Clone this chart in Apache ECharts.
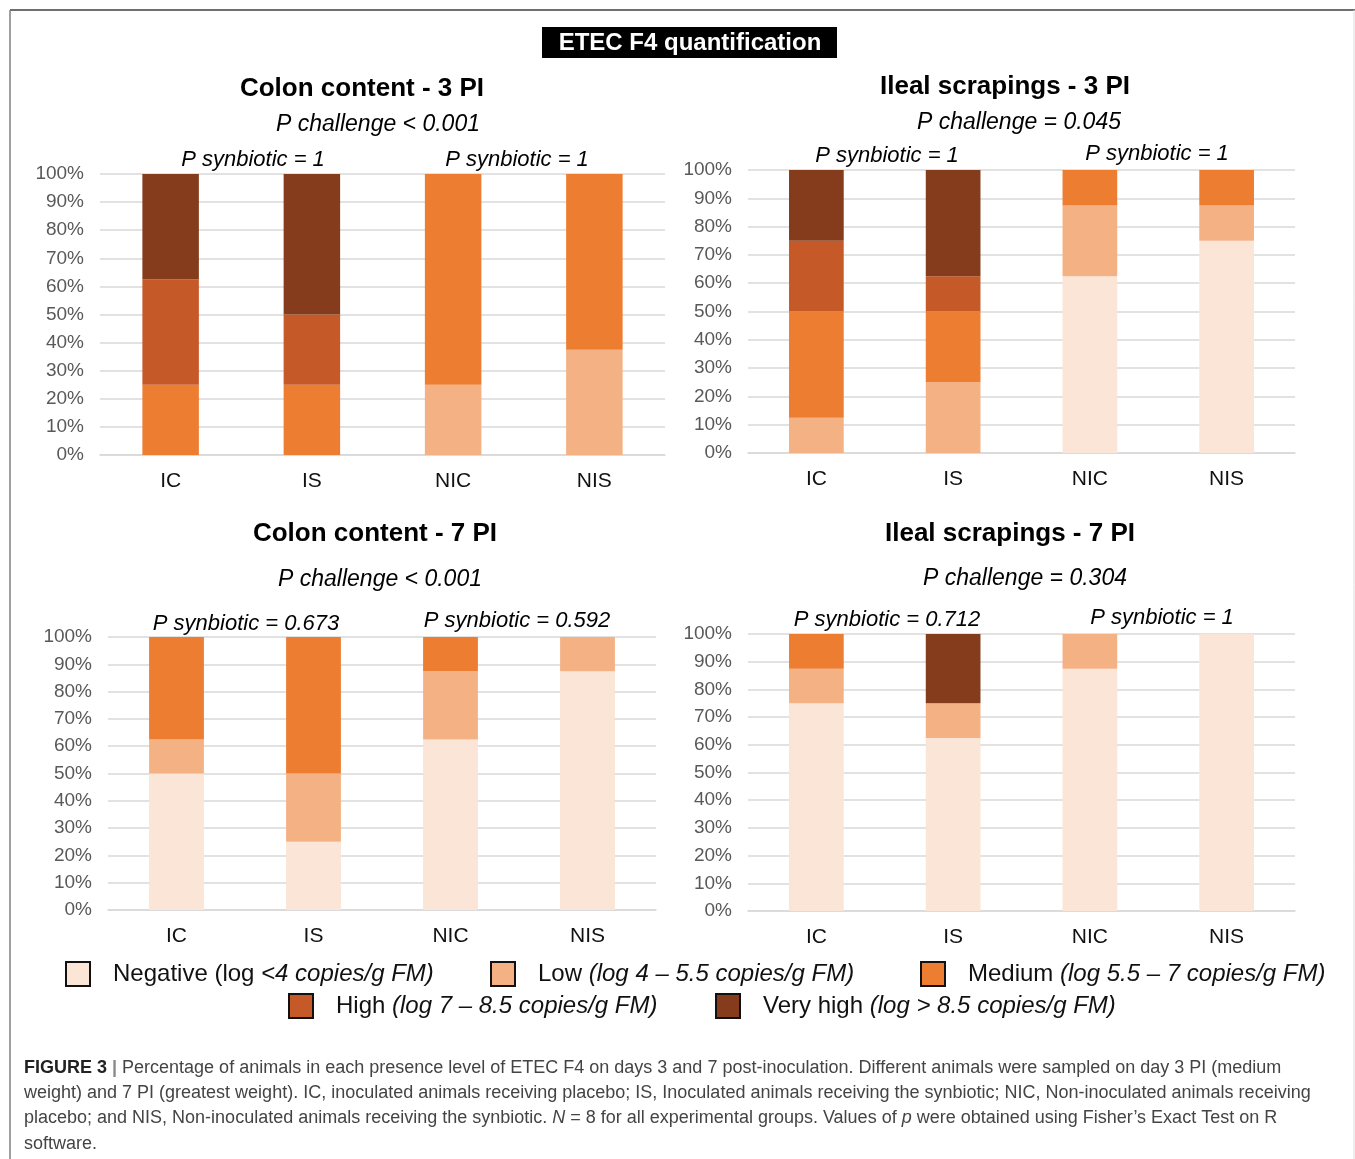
<!DOCTYPE html>
<html>
<head>
<meta charset="utf-8">
<script src="https://cdn.jsdelivr.net/npm/echarts@6/dist/echarts.min.js"></script>
<style>
html,body{margin:0;padding:0;background:#fff;}
#chart{width:1355px;height:1159px;}
</style>
</head>
<body>
<div id="chart"></div>
<script>
// ---------- DATA ----------
const categories = ['IC', 'IS', 'NIC', 'NIS'];
const levelNames = ['Negative', 'Low', 'Medium', 'High', 'Very high'];
const levelColors = ['#FBE5D6', '#F4B183', '#ED7D31', '#C55A28', '#843C1C'];

// Colon content - 3 PI (% of animals)
const colon3Negative = [0, 0, 0, 0];
const colon3Low      = [0, 0, 25, 37.5];
const colon3Medium   = [25, 25, 75, 62.5];
const colon3High     = [37.5, 25, 0, 0];
const colon3VeryHigh = [37.5, 50, 0, 0];

// Ileal scrapings - 3 PI
const ileal3Negative = [0, 0, 62.5, 75];
const ileal3Low      = [12.5, 25, 25, 12.5];
const ileal3Medium   = [37.5, 25, 12.5, 12.5];
const ileal3High     = [25, 12.5, 0, 0];
const ileal3VeryHigh = [25, 37.5, 0, 0];

// Colon content - 7 PI
const colon7Negative = [50, 25, 62.5, 87.5];
const colon7Low      = [12.5, 25, 25, 12.5];
const colon7Medium   = [37.5, 50, 12.5, 0];
const colon7High     = [0, 0, 0, 0];
const colon7VeryHigh = [0, 0, 0, 0];

// Ileal scrapings - 7 PI
const ileal7Negative = [75, 62.5, 87.5, 100];
const ileal7Low      = [12.5, 12.5, 12.5, 0];
const ileal7Medium   = [12.5, 0, 0, 0];
const ileal7High     = [0, 0, 0, 0];
const ileal7VeryHigh = [0, 25, 0, 0];

const panelTitles = ['Colon content - 3 PI', 'Ileal scrapings - 3 PI', 'Colon content - 7 PI', 'Ileal scrapings - 7 PI'];
const pChallenge = ['P challenge < 0.001', 'P challenge = 0.045', 'P challenge < 0.001', 'P challenge = 0.304'];
const pSynbioticInoc = ['P synbiotic = 1', 'P synbiotic = 1', 'P synbiotic = 0.673', 'P synbiotic = 0.712'];
const pSynbioticNonInoc = ['P synbiotic = 1', 'P synbiotic = 1', 'P synbiotic = 0.592', 'P synbiotic = 1'];
const legendDetail = ['(log <4 copies/g FM)', '(log 4 \u2013 5.5 copies/g FM)', '(log 5.5 \u2013 7 copies/g FM)', '(log 7 \u2013 8.5 copies/g FM)', '(log > 8.5 copies/g FM)'];

const panels = [
  [colon3Negative, colon3Low, colon3Medium, colon3High, colon3VeryHigh],
  [ileal3Negative, ileal3Low, ileal3Medium, ileal3High, ileal3VeryHigh],
  [colon7Negative, colon7Low, colon7Medium, colon7High, colon7VeryHigh],
  [ileal7Negative, ileal7Low, ileal7Medium, ileal7High, ileal7VeryHigh]
];

// ---------- LAYOUT ----------
const FONT = '"Liberation Sans", Arial, Helvetica, sans-serif';
const grids = [
  {left: 100, top: 174, width: 565, height: 281},
  {left: 748, top: 170, width: 547, height: 283},
  {left: 108, top: 637, width: 548, height: 273},
  {left: 748, top: 634, width: 547, height: 277}
];
const titlePos = [
  {t: [362, 89], c: [378, 125], s1: [253, 160], s2: [517, 160]},
  {t: [1005, 87], c: [1019, 123], s1: [887, 156], s2: [1157, 154]},
  {t: [375, 534], c: [380, 580], s1: [246, 624], s2: [517, 621]},
  {t: [1010, 534], c: [1025, 579], s1: [887, 620], s2: [1162, 618]}
];

const xAxes = [], yAxes = [], series = [];
grids.forEach((g, i) => {
  xAxes.push({
    type: 'category', gridIndex: i, data: categories,
    axisTick: {show: false},
    axisLine: {show: true, lineStyle: {color: '#d9d9d9', width: 1.5}},
    axisLabel: {color: '#111', fontSize: 21, fontFamily: FONT, margin: 16}
  });
  yAxes.push({
    type: 'value', gridIndex: i, min: 0, max: 100, interval: 10,
    axisLine: {show: false}, axisTick: {show: false},
    splitLine: {lineStyle: {color: '#d9d9d9', width: 1.5}},
    axisLabel: {formatter: '{value}%', color: '#595959', fontSize: 19, fontFamily: FONT, margin: 16}
  });
  panels[i].forEach((vals, k) => {
    series.push({
      name: levelNames[k], type: 'bar', stack: 'p' + i,
      xAxisIndex: i, yAxisIndex: i, data: vals,
      barWidth: '40%',
      itemStyle: {color: levelColors[k]},
      emphasis: {disabled: true},
      animation: false
    });
  });
});

const graphics = [];
// frame
graphics.push({type: 'line', shape: {x1: 10, y1: 10, x2: 1355, y2: 10}, style: {stroke: '#6f6f6f', lineWidth: 2}});
graphics.push({type: 'line', shape: {x1: 10, y1: 10, x2: 10, y2: 1159}, style: {stroke: '#7f7f7f', lineWidth: 1.5}});
graphics.push({type: 'line', shape: {x1: 1354, y1: 10, x2: 1354, y2: 1159}, style: {stroke: '#dddddd', lineWidth: 1}});
// header
graphics.push({type: 'rect', shape: {x: 542, y: 27, width: 295, height: 31}, style: {fill: '#000'}});
graphics.push({type: 'text', x: 690, y: 43, style: {text: 'ETEC F4 quantification', fill: '#fff', font: 'bold 24px ' + FONT, textAlign: 'center', textVerticalAlign: 'middle'}});

titlePos.forEach((p, i) => {
  graphics.push({type: 'text', x: p.t[0], y: p.t[1], style: {text: panelTitles[i], fill: '#000', font: 'bold 26px ' + FONT, textAlign: 'center', textVerticalAlign: 'middle'}});
  graphics.push({type: 'text', x: p.c[0], y: p.c[1], style: {text: pChallenge[i], fill: '#000', font: 'italic 23px ' + FONT, textAlign: 'center', textVerticalAlign: 'middle'}});
  graphics.push({type: 'text', x: p.s1[0], y: p.s1[1], style: {text: pSynbioticInoc[i], fill: '#000', font: 'italic 22px ' + FONT, textAlign: 'center', textVerticalAlign: 'middle'}});
  graphics.push({type: 'text', x: p.s2[0], y: p.s2[1], style: {text: pSynbioticNonInoc[i], fill: '#000', font: 'italic 22px ' + FONT, textAlign: 'center', textVerticalAlign: 'middle'}});
});

// caption
const capFont = 18;
const capLines = [
  '{b|FIGURE 3} {sep||} Percentage of animals in each presence level of ETEC F4 on days 3 and 7 post-inoculation. Different animals were sampled on day 3 PI (medium',
  'weight) and 7 PI (greatest weight). IC, inoculated animals receiving placebo; IS, Inoculated animals receiving the synbiotic; NIC, Non-inoculated animals receiving',
  'placebo; and NIS, Non-inoculated animals receiving the synbiotic. {i|N} = 8 for all experimental groups. Values of {i|p} were obtained using Fisher\u2019s Exact Test on R',
  'software.'
];
const capY = [1068, 1093, 1118, 1144];
capLines.forEach((ln, j) => {
  graphics.push({type: 'text', x: 24, y: capY[j], style: {
    text: ln, fill: '#444', fontSize: capFont, fontFamily: FONT, textVerticalAlign: 'middle',
    rich: {
      b: {fontWeight: 'bold', fontSize: capFont, fontFamily: FONT, fill: '#222'},
      sep: {fontSize: capFont, fontFamily: FONT, fill: '#888', fontWeight: 'bold'},
      i: {fontStyle: 'italic', fontSize: capFont, fontFamily: FONT, fill: '#444'}
    }
  }});
});

// legends (one per item for exact placement)
const legendPos = [[60, 956], [485, 956], [915, 956], [283, 988], [710, 988]];
const legends = levelNames.map((nm, k) => ({
  data: [nm], left: legendPos[k][0], top: legendPos[k][1],
  orient: 'horizontal', selectedMode: false,
  itemWidth: 24, itemHeight: 24, icon: 'rect',
  itemStyle: {borderColor: '#111', borderWidth: 2},
  formatter: function (name) {
    const idx = levelNames.indexOf(name);
    if (idx === 0) return '{n|Negative (log }{i|<4 copies/g FM)}';
    return '{n|' + name + ' }{i|' + legendDetail[idx] + '}';
  },
  textStyle: {
    padding: [0, 0, 0, 18],
    rich: {
      n: {fontSize: 24, fontFamily: FONT, color: '#111'},
      i: {fontSize: 24, fontFamily: FONT, color: '#111', fontStyle: 'italic'}
    }
  }
}));

const chart = echarts.init(document.getElementById('chart'), null, {renderer: 'canvas'});
chart.setOption({
  backgroundColor: '#fff',
  animation: false,
  grid: grids.map(g => Object.assign({containLabel: false}, g)),
  xAxis: xAxes,
  yAxis: yAxes,
  legend: legends,
  series: series,
  graphic: graphics
});
</script>
</body>
</html>
